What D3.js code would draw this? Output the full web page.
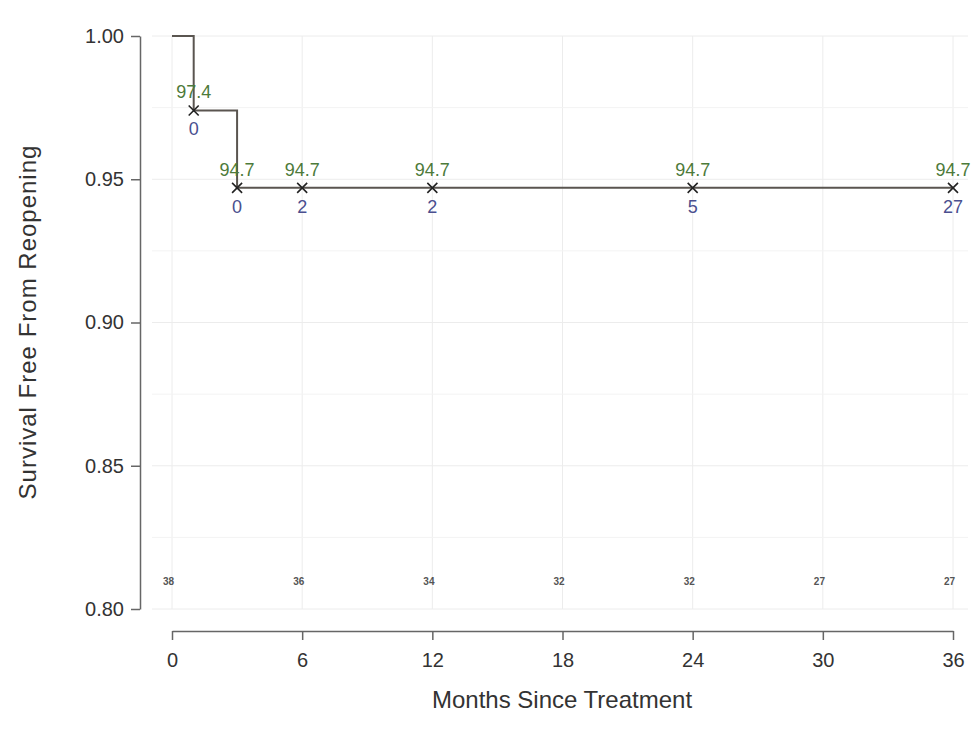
<!DOCTYPE html>
<html lang="en">
<head>
    <script src='https://d3js.org/d3.v7.min.js'></script>
</head>
<body style="margin:0;background:#fff">
<style>
svg text { font-family: "Liberation Sans", Arial, sans-serif; }
.axis path, .axis line { stroke: #666; stroke-width: 1.5; }
.axis text { fill: #333; font-size: 20px; }
</style>
<script>
// step curve: time (months) and survival
var stepTimes = [0, 1, 3, 36];
var stepSurv = [1.00, 0.974, 0.947, 0.947];
// marked points with labels
var markTimes = [1, 3, 6, 12, 24, 36];
var markSurv = [0.974, 0.947, 0.947, 0.947, 0.947, 0.947];
var markPct = ["97.4", "94.7", "94.7", "94.7", "94.7", "94.7"];
var markCount = ["0", "0", "2", "2", "5", "27"];
// numbers at risk
var riskTimes = [0, 6, 12, 18, 24, 30, 36];
var riskCounts = [38, 36, 34, 32, 32, 27, 27];
var xTicks = [0, 6, 12, 18, 24, 30, 36];
var yTicks = [0.80, 0.85, 0.90, 0.95, 1.00];

var width = 974, height = 736;
var svg = d3.select("body").append("svg")
  .attr("width", width).attr("height", height);

var x = d3.scaleLinear().domain([0, 36]).range([172, 953]);
var y = d3.scaleLinear().domain([0.80, 1.00]).range([609, 36]);

// gridlines
var grid = svg.append("g").attr("stroke", "#ececec").attr("stroke-width", 1);
grid.selectAll("line.v").data(xTicks).enter().append("line")
  .attr("x1", d => x(d)).attr("x2", d => x(d))
  .attr("y1", y(1.00)).attr("y2", y(0.80));
grid.selectAll("line.h").data(d3.range(0.80, 1.0001, 0.025)).enter().append("line")
  .attr("x1", x(0) - 20).attr("x2", x(36) + 15)
  .attr("y1", d => y(d)).attr("y2", d => y(d))
  .attr("stroke", (d, i) => i % 2 ? "#f3f3f3" : "#ececec");

// axes
svg.append("g").attr("class", "axis")
  .attr("transform", "translate(140,0)")
  .call(d3.axisLeft(y).tickValues(yTicks).tickFormat(d3.format(".2f")).tickSize(9).tickPadding(7).tickSizeOuter(0));
svg.append("g").attr("class", "axis")
  .attr("transform", "translate(0,631)")
  .call(d3.axisBottom(x).tickValues(xTicks).tickSize(9).tickPadding(13).tickSizeOuter(0));

// step curve
var pts = stepTimes.map((t, i) => [t, stepSurv[i]]);
svg.append("path")
  .datum(pts)
  .attr("fill", "none").attr("stroke", "#5a5550").attr("stroke-width", 2)
  .attr("d", d3.line().x(d => x(d[0])).y(d => y(d[1])).curve(d3.curveStepAfter));

// markers
var marks = svg.append("g").selectAll("g").data(markTimes).enter().append("g")
  .attr("transform", (d, i) => "translate(" + x(d) + "," + y(markSurv[i]) + ")");
marks.append("path").attr("d", "M-5,-5L5,5M-5,5L5,-5")
  .attr("stroke", "#222").attr("stroke-width", 1.6);
marks.append("text").attr("y", -12).attr("text-anchor", "middle")
  .attr("font-size", 18).attr("fill", "#4d7a3a")
  .text((d, i) => markPct[i]);
marks.append("text").attr("y", 25).attr("text-anchor", "middle")
  .attr("font-size", 18).attr("fill", "#4a4f8f")
  .text((d, i) => markCount[i]);

// at risk
svg.append("g").selectAll("text").data(riskTimes).enter().append("text")
  .attr("x", d => x(d) - 9).attr("y", 585)
  .attr("font-size", 10).attr("font-weight", "bold").attr("fill", "#555")
  .text((d, i) => riskCounts[i]);

// axis titles
svg.append("text").attr("x", 562).attr("y", 708).attr("text-anchor", "middle")
  .attr("font-size", 24).attr("fill", "#333").text("Months Since Treatment");
svg.append("text").attr("transform", "translate(36,322) rotate(-90)")
  .attr("text-anchor", "middle").attr("font-size", 24).attr("fill", "#333")
  .attr("letter-spacing", 1)
  .text("Survival Free From Reopening");
</script>
</body>
</html>
